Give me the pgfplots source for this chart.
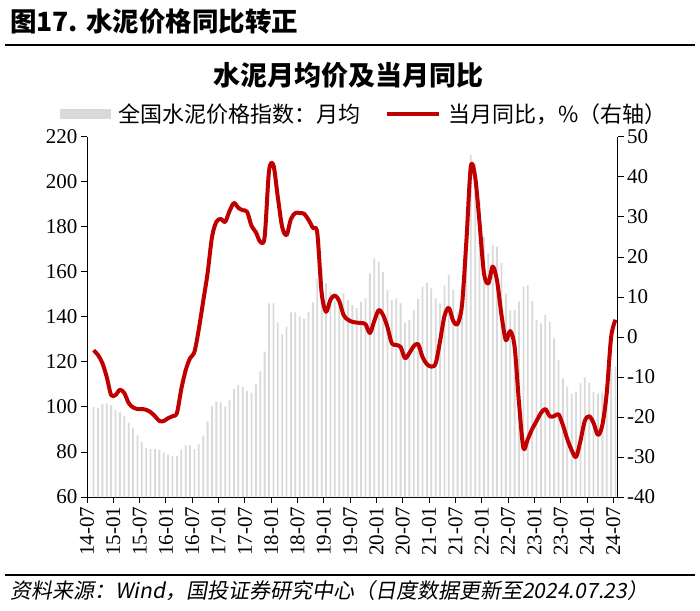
\documentclass[border=0pt]{standalone}
\usepackage{pgfplots}
\pgfplotsset{compat=1.18}
\usepackage{pgfplotstable}
\usepackage{fontspec}
\setmainfont{Liberation Serif}
\newfontfamily\cjk{Noto Sans CJK SC}
\newfontfamily\cjksl[FakeSlant=0.18]{Noto Sans CJK SC}
\definecolor{barc}{RGB}{217,217,217}
\definecolor{redc}{RGB}{192,0,0}

\pgfplotstableread{
c idx yoy
1 99.9 -3.3
2 99.6 -4.5
3 101.3 -6.5
4 101.6 -10
5 100.7 -14.5
6 98.7 -14.5
7 97.6 -13.2
8 96.1 -14
9 93.1 -16.5
10 90.8 -17.6
11 87.4 -18
12 84.4 -18
13 81.8 -18.2
14 81.3 -18.8
15 81.3 -19.8
16 80.9 -21
17 79.8 -21
18 78.8 -20.3
19 78.2 -19.8
20 78.2 -19
21 80.8 -13
22 83 -8.3
23 82.9 -5.3
24 81.3 -3.7
25 83.4 2
26 87.3 9
27 93.6 16
28 100.3 25
29 102.4 28.8
30 102.1 29.5
31 100.3 28.8
32 103.3 31.5
33 108.1 33.5
34 109.7 32.3
35 108.8 31.7
36 107.1 31.3
37 106.4 27.8
38 110.1 26.2
39 115.8 23.8
40 124.6 25
41 146.1 41.5
42 146.1 43
43 137.6 35
44 132.3 27.5
45 135.7 25.5
46 142.1 29.5
47 142.1 31
48 140.1 31
49 139.1 30.8
50 142.2 29.3
51 146.5 27.3
52 157 26
53 161 11
54 155 6.3
55 151 9.3
56 147 10.4
57 149 9
58 150.5 5.5
59 147.6 4.3
60 145.3 3.8
61 143.9 3.6
62 146.8 3.5
63 148.3 3.2
64 159.4 1
65 166.1 4
66 164.6 6.7
67 160.1 5.5
68 152 2.5
69 147.6 -1.6
70 148.3 -2
71 146.1 -2.5
72 137.5 -5.3
73 138.7 -4
74 143.1 -2.3
75 148 -1.8
76 153.5 -5
77 155 -6.8
78 152.7 -7.4
79 148.3 -6.6
80 146.1 -1
81 154 5.2
82 158.7 7.3
83 152 4
84 142 3.3
85 149 8
86 175 24
87 212 42.5
88 208.3 40
89 192 28.5
90 175.7 16
91 168.3 13.4
92 172 17.6
93 171.3 14
94 163.9 5.5
95 150.5 -0.8
96 143.1 1.5
97 143.1 -2.5
98 146.8 -16.5
99 153.5 -27.8
100 154.2 -25.5
101 147 -23
102 138.7 -21
103 137.2 -19
104 140.9 -18
105 137.9 -19.8
106 130.5 -19.8
107 120.9 -19.3
108 112.7 -22
109 109 -25.5
110 105.8 -28.3
111 106.8 -30
112 110.5 -26
113 113.2 -21
114 110.8 -19.8
115 106.8 -21.5
116 106.1 -24.5
117 106.4 -22
118 108 -14
119 117 0
120 118 4.3
}\data

\begin{document}
\begin{tikzpicture}[x=1pt,y=1pt]
\useasboundingbox (0,0) rectangle (700,610);
\node[anchor=west, font=\cjk\bfseries\fontsize{26.5}{30}\selectfont, inner sep=0] at (10,588) {图17. 水泥价格同比转正};
\draw[line width=2.5pt] (5,565) -- (695,565);
\node[font=\cjk\bfseries\fontsize{27}{30}\selectfont, inner sep=0] at (348,535) {水泥月均价及当月同比};
\draw[line width=2.5pt] (5,35) -- (695,35);
\node[anchor=west, font=\cjksl\fontsize{21}{24}\selectfont, inner sep=0] at (10,19) {资料来源：Wind，国投证券研究中心（日度数据更新至2024.07.23）};

\begin{axis}[
  at={(87pt,113pt)}, anchor=south west,
  width=530.7pt, height=360pt, scale only axis,
  xmin=-0.5, xmax=120.5, ymin=60, ymax=220,
  axis y line*=left, axis x line*=bottom,
  ytick={60,80,...,220},
  xtick={-0.5,5.5,...,119.5},
  xticklabels={14-07,15-01,15-07,16-01,16-07,17-01,17-07,18-01,18-07,19-01,19-07,20-01,20-07,21-01,21-07,22-01,22-07,23-01,23-07,24-01,24-07},
  x tick label style={rotate=90, anchor=east},
  tick align=outside, major tick length=6pt,
  every tick/.style={black, line width=1pt},
  axis line style={line width=1pt},
  tick label style={font=\fontsize{21}{24}\selectfont},
  /pgf/number format/assume math mode=true,
  clip=true,
  legend style={at={(rel axis cs:0,1)}, anchor=south west, draw=none, fill=none,
    legend columns=2, font=\cjk\fontsize{22}{25}\selectfont,
    /tikz/every odd column/.append style={column sep=6pt},
    /tikz/every even column/.append style={column sep=22pt},
    xshift=-30pt, yshift=9pt},
]
\addplot[ybar, bar width=1.8pt, fill=barc, draw=none, forget plot] table[x=c, y=idx]{\data};
\addlegendimage{legend image code/.code={\fill[barc] (0pt,-4.5pt) rectangle (50pt,4.5pt);}}
\addlegendentry{全国水泥价格指数：月均}
\addlegendimage{legend image code/.code={\draw[redc, line width=4pt] (0pt,0pt) -- (52pt,0pt);}}
\addlegendentry{当月同比，\%（右轴）}
\end{axis}

\begin{axis}[
  at={(87pt,113pt)}, anchor=south west,
  width=530.7pt, height=360pt, scale only axis,
  xmin=-0.5, xmax=120.5, ymin=-40, ymax=50,
  axis y line*=right, axis x line=none,
  ytick={-40,-30,...,50},
  tick align=outside, major tick length=6pt,
  every tick/.style={black, line width=1pt},
  axis line style={line width=1pt},
  tick label style={font=\fontsize{21}{24}\selectfont},
  /pgf/number format/assume math mode=true,
]
\addplot[redc, line width=4pt, smooth, line join=round] table[x=c, y=yoy]{\data};
\end{axis}
\end{tikzpicture}
\end{document}
